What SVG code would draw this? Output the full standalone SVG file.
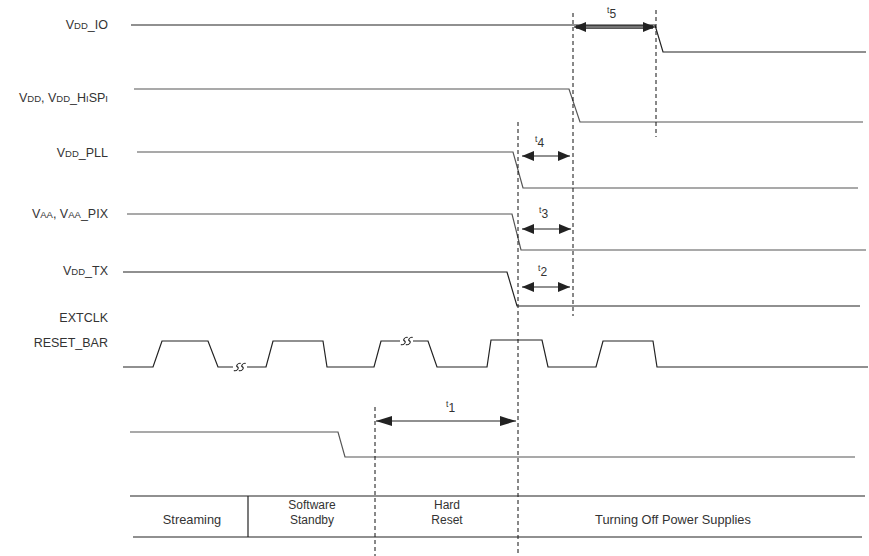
<svg xmlns="http://www.w3.org/2000/svg" width="869" height="556" viewBox="0 0 869 556">
<style>
.sig{fill:none;stroke:#222;stroke-width:1.2;stroke-linejoin:miter}
.g{stroke:#555}
.dash{fill:none;stroke:#111;stroke-width:1;stroke-dasharray:4 3}
.lbl{font-family:"Liberation Sans",Arial,sans-serif;font-size:12.5px;fill:#333;text-anchor:end}
.sc{font-size:9.5px}
.tl{font-family:"Liberation Sans",Arial,sans-serif;fill:#333}
.st{font-family:"Liberation Sans",Arial,sans-serif;font-size:12.8px;fill:#333;text-anchor:middle}
.st2{font-size:12px}
.arr{fill:none;stroke:#222;stroke-width:1.2}
.tbl{fill:none;stroke:#222;stroke-width:1.2}
.brk{fill:none;stroke:#222;stroke-width:1}
</style>
<defs>
<marker id="ah" viewBox="0 0 12 10" refX="12" refY="5" markerWidth="12" markerHeight="10" markerUnits="userSpaceOnUse" orient="auto-start-reverse">
<path d="M0,0 L12,5 L0,10 Z" fill="#222"/>
</marker>
<marker id="ahL" viewBox="0 0 16 10" refX="16" refY="5" markerWidth="16" markerHeight="10" markerUnits="userSpaceOnUse" orient="auto-start-reverse">
<path d="M0,0 L16,5 L0,10 Z" fill="#222"/>
</marker>
<path id="brkS" class="brk" d="M2,-3.5 C-1,-4.5 -2,-1 0.5,0 C3,1 2,4.5 -1.5,3.5"/>
</defs>

<g id="labels">
<text class="lbl" x="108" y="29">V<tspan class="sc">DD</tspan>_IO</text>
<text class="lbl" x="108" y="102">V<tspan class="sc">DD</tspan>, V<tspan class="sc">DD</tspan>_H<tspan class="sc">I</tspan>SP<tspan class="sc">I</tspan></text>
<text class="lbl" x="108" y="157">V<tspan class="sc">DD</tspan>_PLL</text>
<text class="lbl" x="108" y="218">V<tspan class="sc">AA</tspan>, V<tspan class="sc">AA</tspan>_PIX</text>
<text class="lbl" x="108" y="275">V<tspan class="sc">DD</tspan>_TX</text>
<text class="lbl" x="108" y="322">EXTCLK</text>
<text class="lbl" x="108" y="347">RESET_BAR</text>
</g>

<g id="sig-vddio"><polyline class="sig" points="131,25 655,25 663,52 866,52"/></g>
<g id="sig-vdd-hispi"><polyline class="sig g" points="134,89 569,89 580,122 863,122"/></g>
<g id="sig-vddpll"><polyline class="sig g" points="137,152 513,152 523,188 858,188"/></g>
<g id="sig-vaa"><polyline class="sig g" points="127,214 512,214 521,250 866,250"/></g>
<g id="sig-vddtx"><polyline class="sig" points="123,272 507,272 517,306 860,306"/></g>
<g id="sig-extclk">
<polyline class="sig" points="123,367 153,367 162,341 208,341 218,367 233,367"/>
<use href="#brkS" transform="translate(237,367) skewX(-25)"/>
<use href="#brkS" transform="translate(242,367) skewX(-25)"/>
<polyline class="sig" points="247,367 266,367 273,341 323,341 327,367 374,367 381,341 400,341"/>
<use href="#brkS" transform="translate(404,341) skewX(-25)"/>
<use href="#brkS" transform="translate(409,341) skewX(-25)"/>
<polyline class="sig" points="413,341 428,341 437,367 487,367 491,340 542,340 548,367 596,367 603,341 653,341 657,367 868,367"/>
</g>
<g id="sig-reset"><polyline class="sig g" points="130,432 338,432 345,457 855,457"/></g>

<g id="markers-dashed">
<line class="dash" x1="573" y1="13" x2="573" y2="316"/>
<line class="dash" x1="656" y1="10" x2="656" y2="137"/>
<line class="dash" x1="518" y1="122" x2="518" y2="556"/>
<line class="dash" x1="375" y1="407" x2="375" y2="556"/>
</g>

<g id="connectors">
<line x1="576" y1="27" x2="653" y2="27" stroke="#222" stroke-width="3.6"/>
<line x1="586" y1="27" x2="643" y2="27" stroke="#fff" stroke-width="1.4"/>
<line class="arr" x1="574" y1="27" x2="655" y2="27" stroke-width="0.01" marker-start="url(#ah)" marker-end="url(#ah)"/>
<line class="arr" x1="522" y1="156" x2="570" y2="156" marker-start="url(#ah)" marker-end="url(#ah)"/>
<line class="arr" x1="522" y1="229" x2="571" y2="229" marker-start="url(#ah)" marker-end="url(#ah)"/>
<line class="arr" x1="522" y1="287" x2="570" y2="287" marker-start="url(#ah)" marker-end="url(#ah)"/>
<line class="arr" x1="376" y1="421" x2="516" y2="421" marker-start="url(#ahL)" marker-end="url(#ahL)"/>
</g>

<g id="timing-labels">
<text class="tl" x="607" y="13"><tspan font-size="8.5">t</tspan><tspan font-size="12" dy="5">5</tspan></text>
<text class="tl" x="535" y="142"><tspan font-size="8.5">t</tspan><tspan font-size="12" dy="5">4</tspan></text>
<text class="tl" x="539" y="213"><tspan font-size="8.5">t</tspan><tspan font-size="12" dy="5">3</tspan></text>
<text class="tl" x="538" y="271"><tspan font-size="8.5">t</tspan><tspan font-size="12" dy="5">2</tspan></text>
<text class="tl" x="446" y="407"><tspan font-size="8.5">t</tspan><tspan font-size="12" dy="5">1</tspan></text>
</g>

<g id="state-table">
<line class="tbl" x1="130" y1="496" x2="865" y2="496"/>
<line class="tbl" x1="133" y1="537" x2="862" y2="537" stroke="#555"/>
<line class="tbl" x1="248" y1="496" x2="248" y2="537"/>
</g>
<g id="state-streaming"><text class="st" x="192" y="524">Streaming</text></g>
<g id="state-standby"><text class="st st2" x="312" y="509">Software</text><text class="st st2" x="312" y="523.5">Standby</text></g>
<g id="state-hardreset"><text class="st st2" x="447" y="509">Hard</text><text class="st st2" x="447" y="523.5">Reset</text></g>
<g id="state-poweroff"><text class="st" x="673" y="524">Turning Off Power Supplies</text></g>
</svg>
